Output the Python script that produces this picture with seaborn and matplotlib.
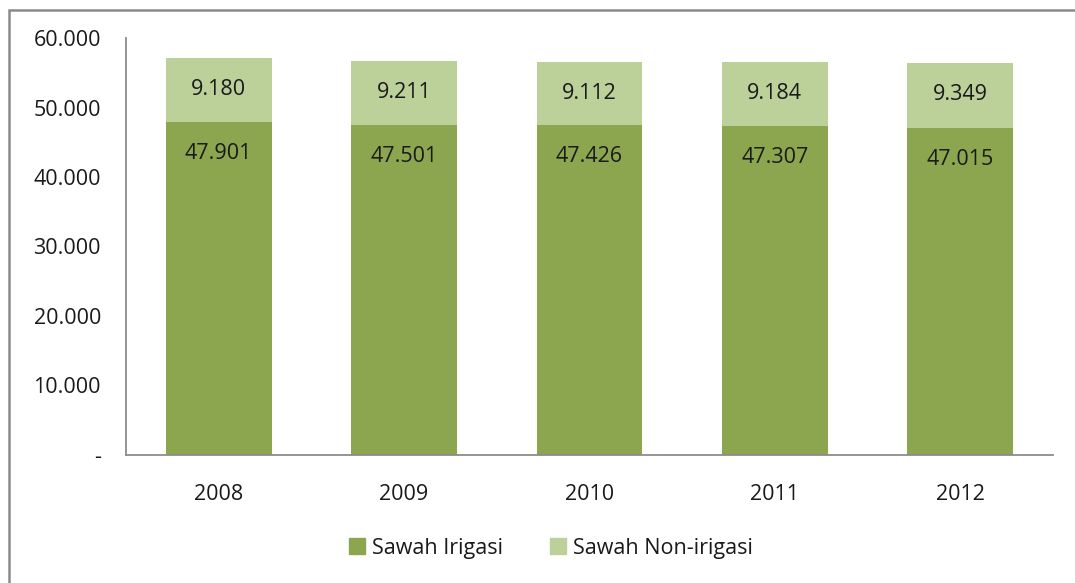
import matplotlib
matplotlib.use("Agg")
import matplotlib.pyplot as plt
import matplotlib.ticker as mticker
from matplotlib.patches import Rectangle, Patch
import seaborn as sns
import pandas as pd

years = ["2008", "2009", "2010", "2011", "2012"]
irigasi = [47901, 47501, 47426, 47307, 47015]
non_irigasi = [9180, 9211, 9112, 9184, 9349]
y_ticks = [0, 10000, 20000, 30000, 40000, 50000, 60000]

dark_green = "#8BA64F"
light_green = "#BCD09A"
text_color = "#1A1A1A"
axis_gray = "#8C8C8C"
fs = 15.5

sns.set_theme(style="white")
plt.rcParams["font.family"] = ["Open Sans", "DejaVu Sans"]

df = pd.DataFrame({"year": years, "irigasi": irigasi, "non_irigasi": non_irigasi})
df["total"] = df["irigasi"] + df["non_irigasi"]

fig = plt.figure(figsize=(10.75, 5.83), dpi=100)
ax = fig.add_axes([0.1172, 0.2196, 0.8623, 0.7152])

# stacked bars: full height in light green, irrigated part drawn over it
sns.barplot(data=df, x="year", y="total", color=light_green, width=0.57,
            saturation=1, ax=ax, linewidth=0)
sns.barplot(data=df, x="year", y="irigasi", color=dark_green, width=0.57,
            saturation=1, ax=ax, linewidth=0)

def fmt(v):
    return f"{v:,.0f}".replace(",", ".")

for i, (a, b) in enumerate(zip(irigasi, non_irigasi)):
    ax.annotate(fmt(b), (i, a + b), xytext=(0, -22.5), textcoords="offset points",
                ha="center", va="center", fontsize=fs, color=text_color)
    ax.annotate(fmt(a), (i, a), xytext=(0, -22.5), textcoords="offset points",
                ha="center", va="center", fontsize=fs, color=text_color)

ax.set_ylim(0, 60000)
ax.set_xlim(-0.5, 4.5)
ax.set_yticks(y_ticks)
ax.yaxis.set_major_formatter(mticker.FuncFormatter(lambda v, p: "-" if v == 0 else fmt(v)))
ax.set_xlabel("")
ax.set_ylabel("")
ax.tick_params(axis="y", length=0, pad=18, labelsize=fs, labelcolor=text_color)
ax.tick_params(axis="x", length=0, pad=21, labelsize=fs, labelcolor=text_color)

for side in ["top", "right"]:
    ax.spines[side].set_visible(False)
for side in ["left", "bottom"]:
    ax.spines[side].set_color(axis_gray)
    ax.spines[side].set_linewidth(1.3)

handles = [Patch(color=dark_green, label="Sawah Irigasi"),
           Patch(color=light_green, label="Sawah Non-irigasi")]
fig.legend(handles=handles, loc="center", bbox_to_anchor=(0.5126, 0.06), ncol=2,
           frameon=False, fontsize=fs, handlelength=0.75, handleheight=0.75,
           handletextpad=0.3, columnspacing=2.2, labelcolor=text_color)

# chart-area frame
fig.patches.append(Rectangle((9 / 1075, -0.05), 1.2, (583 - 10) / 583 + 0.05,
                             transform=fig.transFigure, fill=False,
                             edgecolor="#8A8A8A", linewidth=1.8))

fig.savefig("out.png", dpi=100)
